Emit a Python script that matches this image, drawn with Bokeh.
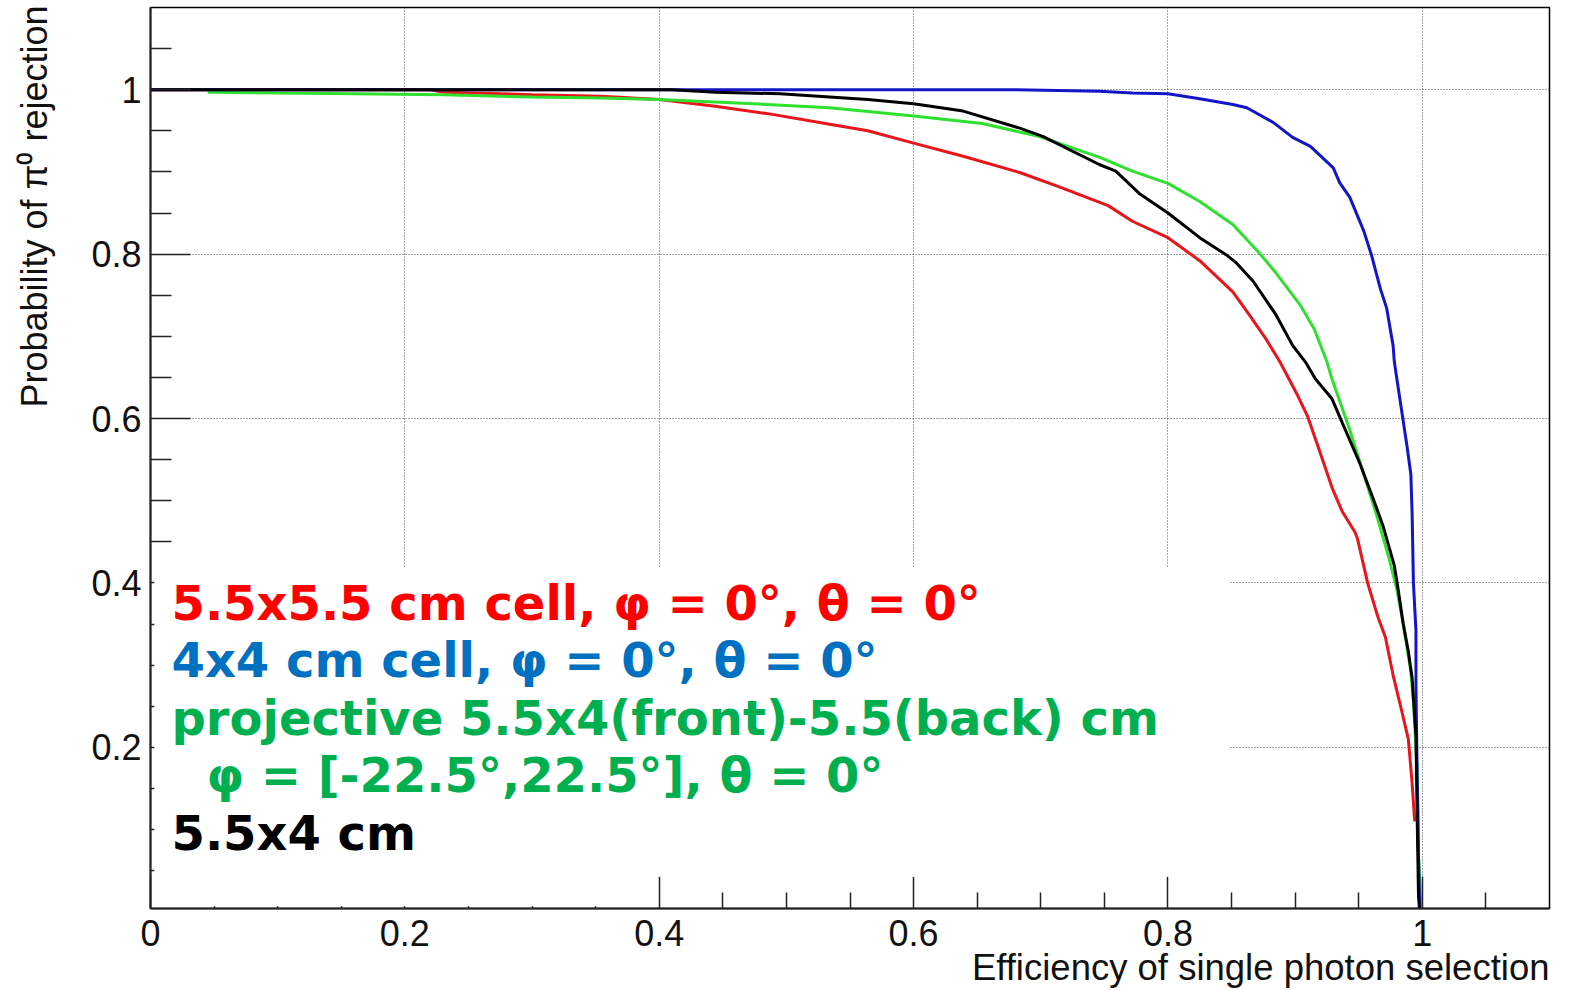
from bokeh.plotting import figure
from bokeh.models import Range1d, FixedTicker, CustomJSTickFormatter, BoxAnnotation, Label
from bokeh.embed import file_html
from bokeh.resources import INLINE

# ---------------- data ----------------
red_x = [0.0, 0.22, 0.23, 0.30, 0.354, 0.40, 0.444, 0.489, 0.534, 0.564, 0.60, 0.639, 0.684,
         0.714, 0.753, 0.772, 0.80, 0.825, 0.851, 0.864, 0.877, 0.888, 0.902, 0.910, 0.918,
         0.929, 0.937, 0.947, 0.949, 0.957, 0.965, 0.971, 0.977, 0.984, 0.989, 0.992, 0.994]
red_y = [1.0, 1.0, 0.997, 0.994, 0.992, 0.988, 0.980, 0.970, 0.958, 0.950, 0.935, 0.919, 0.899,
         0.882, 0.859, 0.840, 0.820, 0.792, 0.754, 0.726, 0.697, 0.669, 0.628, 0.602, 0.566,
         0.516, 0.487, 0.462, 0.454, 0.400, 0.359, 0.334, 0.288, 0.243, 0.210, 0.156, 0.110]

green_x = [0.045, 0.10, 0.16, 0.23, 0.30, 0.354, 0.40, 0.474, 0.534, 0.60, 0.654, 0.699, 0.746,
           0.772, 0.80, 0.825, 0.851, 0.872, 0.885, 0.904, 0.915, 0.925, 0.929, 0.943, 0.953,
           0.964, 0.974, 0.980, 0.985, 0.991, 0.993, 0.996, 0.997, 0.999]
green_y = [0.997, 0.996, 0.995, 0.994, 0.991, 0.990, 0.988, 0.983, 0.978, 0.968, 0.959, 0.943,
           0.918, 0.901, 0.886, 0.864, 0.836, 0.801, 0.777, 0.738, 0.709, 0.669, 0.648, 0.586,
           0.537, 0.483, 0.429, 0.392, 0.350, 0.292, 0.255, 0.172, 0.069, 0.0]

blue_x = [0.0, 0.677, 0.746, 0.772, 0.80, 0.825, 0.851, 0.862, 0.883, 0.898, 0.912, 0.930, 0.935,
          0.943, 0.954, 0.960, 0.967, 0.972, 0.977, 0.978, 0.980, 0.984, 0.988, 0.991, 0.992,
          0.993, 0.995, 0.995, 0.996, 0.997, 0.998]
blue_y = [1.0, 1.0, 0.998, 0.996, 0.995, 0.989, 0.982, 0.978, 0.960, 0.942, 0.931, 0.905, 0.887,
          0.869, 0.828, 0.799, 0.758, 0.734, 0.689, 0.669, 0.648, 0.607, 0.566, 0.532, 0.483,
          0.400, 0.342, 0.276, 0.160, 0.069, 0.0]

black_x = [0.0, 0.41, 0.444, 0.495, 0.564, 0.60, 0.639, 0.684, 0.702, 0.746, 0.759, 0.778, 0.80,
           0.825, 0.846, 0.854, 0.867, 0.885, 0.898, 0.908, 0.916, 0.929, 0.937, 0.951, 0.961,
           0.969, 0.978, 0.981, 0.985, 0.989, 0.992, 0.995, 0.996, 0.997, 0.998]
black_y = [1.0, 1.0, 0.997, 0.995, 0.988, 0.983, 0.974, 0.953, 0.943, 0.909, 0.901, 0.873, 0.850,
           0.820, 0.799, 0.789, 0.767, 0.726, 0.689, 0.669, 0.648, 0.624, 0.595, 0.545, 0.504,
           0.470, 0.421, 0.392, 0.350, 0.317, 0.284, 0.214, 0.110, 0.019, 0.0]

x_major = [0.0, 0.2, 0.4, 0.6, 0.8, 1.0]
x_minor = [0.05, 0.1, 0.15, 0.25, 0.3, 0.35, 0.45, 0.5, 0.55, 0.65, 0.7, 0.75, 0.85, 0.9, 0.95, 1.05]
y_major = [0.2, 0.4, 0.6, 0.8, 1.0]
y_minor = [0.05, 0.1, 0.15, 0.25, 0.3, 0.35, 0.45, 0.5, 0.55, 0.65, 0.7, 0.75, 0.85, 0.9, 0.95, 1.05]

legend_lines = [
    ("5.5x5.5 cm cell, \u03c6 = 0\u00b0, \u03b8 = 0\u00b0", "#ff0000"),
    ("4x4 cm cell, \u03c6 = 0\u00b0, \u03b8 = 0\u00b0", "#0070c0"),
    ("projective 5.5x4(front)-5.5(back) cm", "#00b050"),
    ("\u03c6 = [-22.5\u00b0,22.5\u00b0], \u03b8 = 0\u00b0", "#00b050"),
    ("5.5x4 cm", "#000000"),
]

x_title = "Efficiency of single photon selection"
y_title = "Probability of \u03c0\u2070 rejection"

# ---------------- figure ----------------
XMIN, XMAX, YMIN, YMAX = 0.0, 1.1, 0.004, 1.1
p = figure(width=1572, height=990, output_backend="svg", toolbar_location=None,
           x_range=Range1d(XMIN, XMAX), y_range=Range1d(YMIN, YMAX),
           min_border_left=150, min_border_right=23, min_border_top=7, min_border_bottom=82)
p.background_fill_color = "white"
p.border_fill_color = "white"
p.outline_line_color = "black"
p.outline_line_width = 1.5

fmt = CustomJSTickFormatter(code="return String(Math.round(tick*100)/100);")

xa = p.xaxis[0]
xa.ticker = FixedTicker(ticks=x_major, minor_ticks=x_minor)
xa.formatter = fmt
xa.major_tick_in = 32
xa.major_tick_out = 0
xa.minor_tick_in = 16
xa.minor_tick_out = 0
xa.major_label_standoff = 11

ya = p.yaxis[0]
ya.ticker = FixedTicker(ticks=y_major, minor_ticks=y_minor)
ya.formatter = fmt
ya.major_tick_in = 40
ya.major_tick_out = 0
ya.minor_tick_in = 21
ya.minor_tick_out = 0
ya.major_label_standoff = 9

for ax in (xa, ya):
    ax.axis_line_color = "#222222"
    ax.axis_line_width = 2
    ax.major_tick_line_color = "#222222"
    ax.major_tick_line_width = 1.5
    ax.minor_tick_line_color = "#222222"
    ax.minor_tick_line_width = 1.5
    ax.major_label_text_font = "Liberation Sans"
    ax.major_label_text_font_size = "36px"
    ax.major_label_text_color = "#111111"

for g in (p.xgrid[0], p.ygrid[0]):
    g.grid_line_color = "#444444"
    g.grid_line_dash = "1 2"
    g.grid_line_width = 1
p.xgrid[0].ticker = FixedTicker(ticks=x_major)
p.ygrid[0].ticker = FixedTicker(ticks=y_major)

# curves
p.line(red_x, red_y, line_color="#e8161b", line_width=3)
p.line(green_x, green_y, line_color="#2fe02f", line_width=3)
p.line(blue_x, blue_y, line_color="#1515c8", line_width=3)
p.line(black_x, black_y, line_color="#000000", line_width=3)

# white pad behind the legend text (covers grid and ticks as in the reference)
p.add_layout(BoxAnnotation(left=0.003, right=0.849, bottom=0.0426, top=0.4188,
                           fill_color="white", fill_alpha=1.0, line_color=None))
p.add_layout(BoxAnnotation(left=0.003, right=0.39, bottom=0.0068, top=0.045,
                           fill_color="white", fill_alpha=1.0, line_color=None))

# legend text
leg_y = [0.3762, 0.3063, 0.2363, 0.1664, 0.0964]
leg_x = [0.0165, 0.0165, 0.0165, 0.044, 0.0165]
for (txt, col), lx, ly in zip(legend_lines, leg_x, leg_y):
    p.add_layout(Label(x=lx, y=ly, text=txt, text_color=col, text_font="DejaVu Sans",
                       text_font_style="bold", text_font_size="48px",
                       text_align="left", text_baseline="alphabetic"))

# axis titles (ROOT style: right aligned at the end of the axis), placed in side panels
p.add_layout(Label(x=XMAX, y=-0.0678, text=x_title, text_align="right",
                   text_baseline="alphabetic", text_font="Liberation Sans",
                   text_font_size="36.5px", text_color="#111111"), "below")
p.add_layout(Label(x=-0.0912, y=1.1024, text=y_title, angle=90, angle_units="deg",
                   text_align="right", text_baseline="alphabetic",
                   text_font="Liberation Sans", text_font_size="36px",
                   text_color="#111111"), "left")

open("out.html", "w").write(file_html(p, INLINE))
